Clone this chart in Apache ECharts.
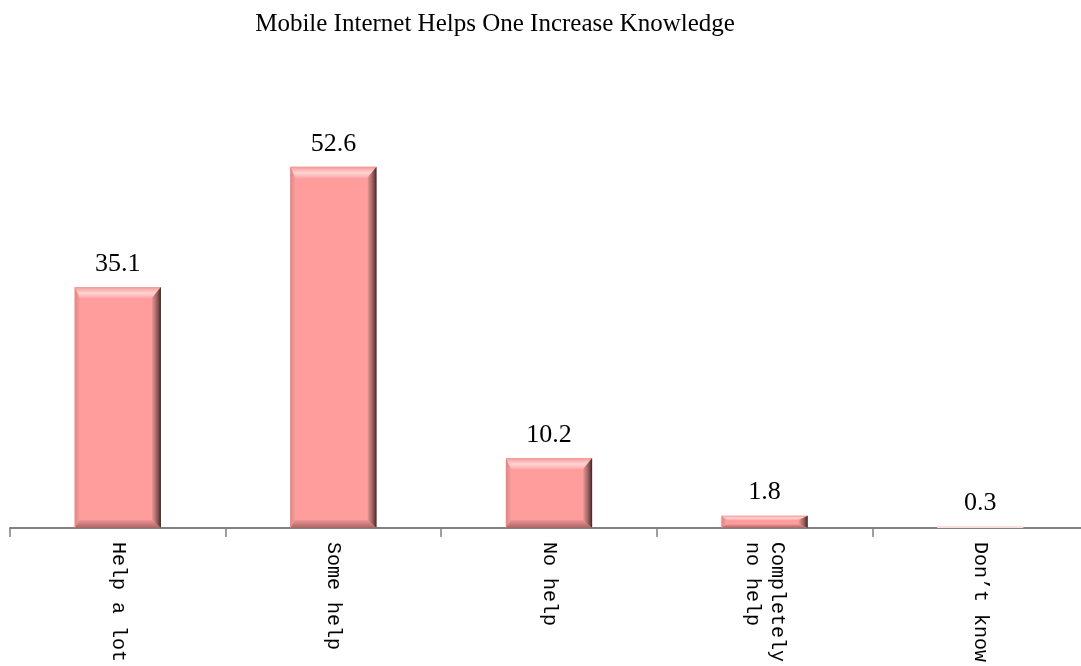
<!DOCTYPE html>
<html>
<head>
<meta charset="utf-8">
<script src="https://cdn.jsdelivr.net/npm/echarts@6/dist/echarts.min.js"></script>
<style>
  html, body { margin: 0; padding: 0; background: #ffffff; overflow: hidden; }
  #chart { width: 1088px; height: 666px; }
</style>
</head>
<body>
<div id="chart"></div>
<script>
// Survey answers and their shares (%)
const categories = ['Help a lot', 'Some help', 'No help', 'Completely\nno help', 'Don\u2019t know'];
const shares = [35.1, 52.6, 10.2, 1.8, 0.3];
const titleText = 'Mobile Internet Helps One Increase Knowledge';

const chart = echarts.init(document.getElementById('chart'), null, { renderer: 'canvas' });

const G = echarts.graphic;

// Bevelled ("3D button") bar drawn from the category / value scales
function renderBevelBar(params, api) {
  const idx = api.value(0);
  const val = api.value(1);
  const base = api.coord([idx, 0]);
  const top = api.coord([idx, val]);
  const bandW = api.size([1, 0])[0];
  const w = bandW * 0.4;
  const x = base[0] - w / 2;
  const y = top[1];
  const h = base[1] - top[1];

  const bt = Math.min(11, h * 0.35);
  const bb = Math.min(8, h * 0.3);
  const bl = Math.min(5, w * 0.1);
  const br = Math.min(9, w * 0.12);

  const children = [];
  const faint = val < 1;

  children.push({
    type: 'rect',
    shape: { x: x, y: y, width: w, height: h },
    style: { fill: faint ? '#fbe0e0' : '#ff9d9d' }
  });

  if (!faint) {
    // top bevel (light highlight)
    children.push({
      type: 'polygon',
      shape: { points: [[x, y], [x + w, y], [x + w - br, y + bt], [x + bl, y + bt]] },
      style: {
        fill: new G.LinearGradient(0, 0, 0, 1, [
          { offset: 0, color: '#f49696' },
          { offset: 0.55, color: '#ffd4d4' },
          { offset: 1, color: '#ffaaaa' }
        ])
      }
    });
    // left bevel
    children.push({
      type: 'polygon',
      shape: { points: [[x, y], [x + bl, y + bt], [x + bl, y + h - bb], [x, y + h]] },
      style: {
        fill: new G.LinearGradient(0, 0, 1, 0, [
          { offset: 0, color: '#d88888' },
          { offset: 1, color: '#fa9c9c' }
        ])
      }
    });
    // bottom bevel (shadowed)
    children.push({
      type: 'polygon',
      shape: { points: [[x, y + h], [x + bl, y + h - bb], [x + w - br, y + h - bb], [x + w, y + h]] },
      style: {
        fill: new G.LinearGradient(0, 0, 0, 1, [
          { offset: 0, color: '#f09494' },
          { offset: 1, color: '#a86464' }
        ])
      }
    });
    // right bevel (dark edge)
    children.push({
      type: 'polygon',
      shape: { points: [[x + w, y], [x + w, y + h], [x + w - br, y + h - bb], [x + w - br, y + bt]] },
      style: {
        fill: new G.LinearGradient(0, 0, 1, 0, [
          { offset: 0, color: '#ec9696' },
          { offset: 0.6, color: '#9a5a5a' },
          { offset: 1, color: '#3e2626' }
        ])
      }
    });
  }

  // value label above the bar
  children.push({
    type: 'text',
    style: {
      text: val.toFixed(1),
      x: base[0],
      y: y - 10,
      align: 'center',
      verticalAlign: 'bottom',
      fill: '#000000',
      font: '26px "Liberation Serif", "Times New Roman", serif'
    }
  });

  return { type: 'group', children: children };
}

chart.setOption({
  backgroundColor: '#ffffff',
  animation: false,
  title: {
    text: titleText,
    left: 490,
    textAlign: 'center',
    top: 7,
    textStyle: {
      fontFamily: '"Liberation Serif", "Times New Roman", serif',
      fontSize: 25,
      fontWeight: 'normal',
      color: '#000000'
    }
  },
  // the plot runs slightly past the right edge of the visible page
  grid: { left: 10, right: 0, top: 116, bottom: 138, containLabel: false },
  xAxis: {
    type: 'category',
    data: categories,
    boundaryGap: true,
    axisLine: { show: true, lineStyle: { color: '#808080', width: 2 } },
    axisTick: { show: true, length: 9, lineStyle: { color: '#808080', width: 1.5 } },
    axisLabel: {
      rotate: -90,
      margin: 14,
      interval: 0,
      color: '#000000',
      fontFamily: '"Liberation Mono", "DejaVu Sans Mono", monospace',
      fontSize: 20,
      lineHeight: 25
    },
    splitLine: { show: false }
  },
  yAxis: {
    type: 'value',
    min: 0,
    max: 60,
    show: false,
    splitLine: { show: false }
  },
  series: [{
    type: 'custom',
    renderItem: renderBevelBar,
    data: shares.map(function (v, i) { return [i, v]; }),
    encode: { x: 0, y: 1 },
    clip: false,
    z: 2
  }]
});
</script>
</body>
</html>
